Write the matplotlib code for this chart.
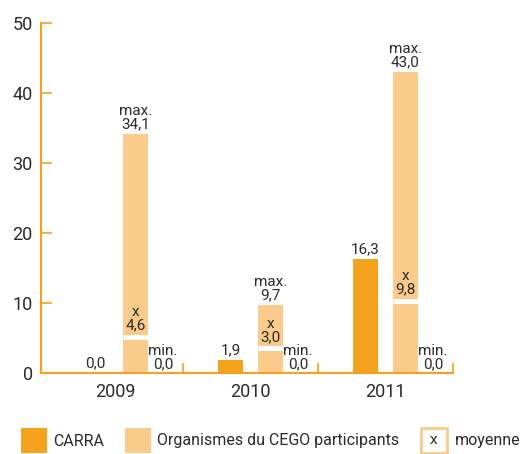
import matplotlib
matplotlib.use("Agg")
import matplotlib.pyplot as plt
from matplotlib.patches import Rectangle

plt.rcParams['font.family'] = ['Roboto', 'DejaVu Sans']

# donnees
annees = ['2009', '2010', '2011']
carra = [0.0, 1.9, 16.3]
cego_max = [34.1, 9.7, 43.0]
cego_moy = [4.6, 3.0, 9.8]
cego_min = [0.0, 0.0, 0.0]

ORANGE = '#F5A21E'
CLAIR = '#FBCB8C'
TXT = '#2b2b2b'

def fmt(v):
    return f"{v:.1f}".replace('.', ',')

fig = plt.figure(figsize=(5.23, 4.54), dpi=100)
ax = fig.add_axes([41/523, 1-373/454, 412/523, 350/454])

x = list(range(len(annees)))
dx = 0.148
w = 0.185

ax.bar([i - dx for i in x], carra, w, color=ORANGE)
ax.bar([i + dx for i in x], cego_max, w, color=CLAIR)
# trait blanc de la moyenne
ax.hlines([m + 0.55 for m in cego_moy], [i + dx - w/2 for i in x], [i + dx + w/2 for i in x],
          colors='white', linewidth=3.6)

for i in x:
    ax.annotate(fmt(carra[i]), (i - dx, carra[i]), xytext=(0, 2), textcoords='offset points',
                ha='center', va='bottom', fontsize=11, color=TXT)
    ax.annotate('max.\n' + fmt(cego_max[i]), (i + dx, cego_max[i]), xytext=(0, 2),
                textcoords='offset points', ha='center', va='bottom', fontsize=11,
                color=TXT, linespacing=0.95)
    ax.annotate('x\n' + fmt(cego_moy[i]), (i + dx, cego_moy[i] + 0.55), xytext=(0, 3),
                textcoords='offset points', ha='center', va='bottom', fontsize=11,
                color=TXT, linespacing=0.95)
    ax.annotate('min.\n' + fmt(cego_min[i]), (i + 0.352, cego_min[i]), xytext=(0, 1),
                textcoords='offset points', ha='center', va='bottom', fontsize=11,
                color=TXT, linespacing=0.95)

ax.set_xlim(-0.552, 2.5)
ax.set_ylim(0, 50)
ax.set_yticks([0, 10, 20, 30, 40, 50])
ax.tick_params(axis='y', direction='in', length=8, width=1.2, color=ORANGE,
               labelsize=13, labelcolor=TXT, pad=6)
ax.set_xticks([0.5, 1.5, 2.5])
ax.set_xticklabels([])
ax.tick_params(axis='x', direction='in', length=7, width=1.2, color=ORANGE)
for i in x:
    ax.text(i, -1.4, annees[i], ha='center', va='top', fontsize=13, color=TXT)

for s in ['top', 'right']:
    ax.spines[s].set_visible(False)
for s in ['left', 'bottom']:
    ax.spines[s].set_color(ORANGE)
    ax.spines[s].set_linewidth(1.5)

# legende
H, W = 454, 523
def carre(x0, couleur, bord=None):
    fig.add_artist(Rectangle((x0/W, 1-453/H), 26/W, 25/H, transform=fig.transFigure,
                             facecolor=couleur, edgecolor=bord or couleur,
                             linewidth=2 if bord else 0))

carre(21, ORANGE)
fig.text(53/W, 1-441/H, 'CARRA', va='center', ha='left', fontsize=11.5, color=TXT)
carre(125, CLAIR)
fig.text(157/W, 1-441/H, 'Organismes du CEGO participants', va='center', ha='left',
         fontsize=11.5, color=TXT)
carre(421, 'white', CLAIR)
fig.text(434/W, 1-440/H, 'x', va='center', ha='center', fontsize=11, color=TXT)
fig.text(455/W, 1-441/H, 'moyenne', va='center', ha='left', fontsize=11.5, color=TXT)

fig.savefig('out.png', dpi=100)
